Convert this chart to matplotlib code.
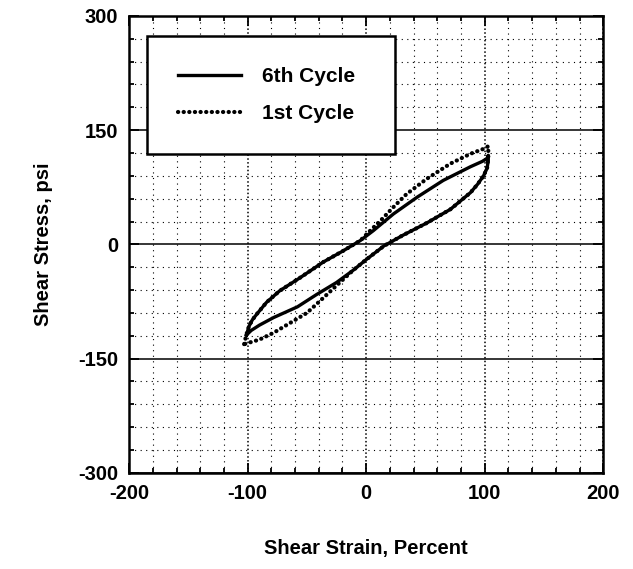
import matplotlib.pyplot as plt
from matplotlib.ticker import MultipleLocator

plt.rcParams['font.family'] = ['Liberation Sans', 'DejaVu Sans']
plt.rcParams['font.weight'] = 'bold'
plt.rcParams['axes.unicode_minus'] = False

# 6th cycle loop: upper (loading) branch then lower (unloading) branch
strain_6th = [-101, -99, -96, -92, -84, -73, -56, -36, -20, -5, 6, 23, 43, 65, 88, 98, 102, 103,
              103, 102, 99, 94, 88, 71, 51, 31, 15, 0, -11, -25, -42, -58, -78, -90, -97, -101]
stress_6th = [-119, -108, -99, -91, -76, -61, -44, -23, -9, 5, 18, 40, 62, 84, 102, 109, 113, 117,
              110, 100, 90, 79, 68, 46, 28, 12, -2, -20, -34, -50, -66, -82, -96, -106, -113, -119]

# 1st cycle loop
strain_1st = [-103, -101, -99, -96, -92, -84, -73, -56, -36, -20, -5, 6, 12, 23, 34, 51, 71, 88, 100, 103,
              103, 102, 99, 94, 88, 71, 51, 31, 15, 0, -11, -25, -36, -50, -64, -78, -90, -103]
stress_1st = [-131, -118, -108, -99, -91, -76, -61, -44, -23, -9, 5, 22, 31, 49, 66, 86, 106, 119, 126, 129,
              114, 100, 90, 79, 68, 46, 28, 12, -2, -20, -34, -54, -70, -90, -103, -116, -125, -131]

fig = plt.figure(figsize=(6.33, 5.69), dpi=100)
ax = fig.add_axes([0.204, 0.169, 0.749, 0.803])

ax.plot(strain_6th, stress_6th, color='black', linewidth=2.4, label='6th Cycle')
ax.plot(strain_1st, stress_1st, color='black', linewidth=3.0,
        linestyle=(0, (0.05, 1.3)), dash_capstyle='round', label='1st Cycle')

ax.set_xlim(-200, 200)
ax.set_ylim(-300, 300)
ax.xaxis.set_major_locator(MultipleLocator(100))
ax.xaxis.set_minor_locator(MultipleLocator(20))
ax.yaxis.set_major_locator(MultipleLocator(150))
ax.yaxis.set_minor_locator(MultipleLocator(30))

ax.grid(which='minor', color='black', linestyle=(0, (1, 4)), linewidth=0.8)
ax.grid(which='major', axis='y', color='black', linestyle='-', linewidth=1.1)
ax.grid(which='major', axis='x', color='black', linestyle=(0, (1, 1.5)), linewidth=1.1)
ax.set_axisbelow(True)

ax.tick_params(which='both', direction='in', top=True, right=True, width=1.3)
ax.tick_params(which='major', length=7, pad=8, labelsize=14.5)
ax.tick_params(which='minor', length=3.5)
for s in ax.spines.values():
    s.set_linewidth(1.8)

ax.set_xlabel('Shear Strain, Percent', fontsize=14.5, fontweight='bold', labelpad=26)
ax.set_ylabel('Shear Stress, psi', fontsize=14.5, fontweight='bold', labelpad=18)

leg = ax.legend(loc='upper left', bbox_to_anchor=(0.038, 0.696, 0.523, 0.26), mode='expand',
                borderaxespad=0, fontsize=15, borderpad=1.5, labelspacing=0.85, handlelength=3.0,
                handletextpad=1.0, fancybox=False, framealpha=1, edgecolor='black')
leg.get_frame().set_linewidth(1.8)
for t in leg.get_texts():
    t.set_fontweight('bold')

plt.savefig('out.png', dpi=100)
